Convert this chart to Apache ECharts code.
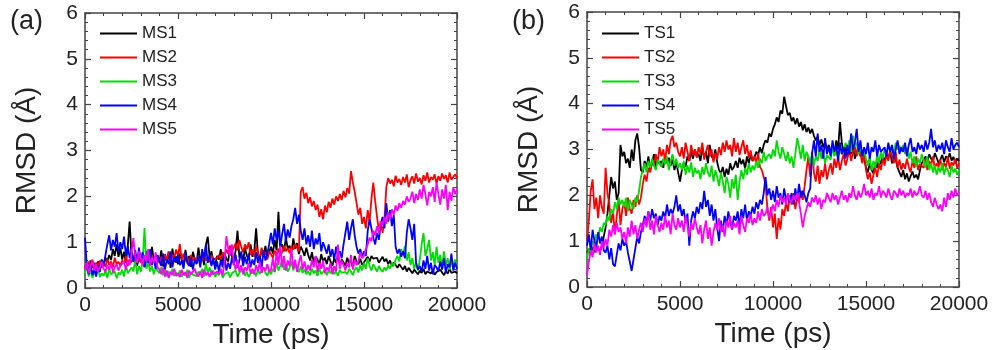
<!DOCTYPE html>
<html>
<head>
<meta charset="utf-8">
<script src="https://cdn.jsdelivr.net/npm/echarts@6/dist/echarts.min.js"></script>
<style>html,body{margin:0;padding:0;background:#fff}#c{width:1000px;height:350px}</style>
</head>
<body>
<div id="c"></div>
<script>
// Time step between samples (ps)
const timeStep = 100;
const xTicks = [0, 5000, 10000, 15000, 20000];
const yTicks = [0, 1, 2, 3, 4, 5, 6];
const namesA = ['MS1', 'MS2', 'MS3', 'MS4', 'MS5'];
const namesB = ['TS1', 'TS2', 'TS3', 'TS4', 'TS5'];
const colors = ['#000000', '#ff0000', '#00dd00', '#0000ff', '#ff00ff'];

const MS1 = [
0.45,0.52,0.38,0.60,0.44,0.55,0.41,0.58,0.47,0.62,
0.50,0.66,0.58,0.72,0.61,0.85,0.70,0.95,0.68,0.88,
0.62,0.79,0.55,0.92,1.45,0.70,0.58,0.83,0.49,0.66,
0.57,0.74,0.46,0.81,0.63,0.52,0.90,0.60,0.48,0.71,
0.55,0.82,0.47,0.68,0.59,0.78,0.44,0.86,0.57,0.69,
0.52,0.75,0.61,0.48,0.83,0.58,0.70,0.46,0.79,0.63,
0.55,0.88,0.60,0.72,0.50,0.94,1.12,0.66,0.80,0.57,
0.49,0.70,0.62,0.85,0.55,0.76,0.64,0.58,0.90,0.68,
0.60,0.82,1.25,0.66,0.74,0.57,0.88,0.70,0.63,0.95,
0.68,0.80,1.30,0.72,0.62,0.85,0.70,0.92,0.66,0.78,
0.90,0.75,1.05,0.82,1.66,0.88,0.95,0.80,1.10,0.86,
0.92,0.78,1.08,0.85,0.98,0.74,0.90,0.82,0.70,0.88,
0.72,0.60,0.78,0.55,0.68,0.62,0.50,0.74,0.58,0.66,
0.52,0.70,0.58,0.48,0.65,0.55,0.72,0.50,0.62,0.56,
0.48,0.66,0.54,0.60,0.45,0.70,0.58,0.52,0.64,0.50,
0.56,0.62,0.68,0.58,0.70,0.64,0.60,0.66,0.55,0.62,
0.68,0.58,0.64,0.52,0.60,0.48,0.56,0.50,0.44,0.52,
0.46,0.40,0.48,0.36,0.44,0.38,0.32,0.40,0.35,0.30,
0.38,0.33,0.42,0.30,0.36,0.40,0.32,0.38,0.29,0.35,
0.32,0.40,0.34,0.28,0.37,0.31,0.42,0.33,0.30,0.36,
0.32];
const MS2 = [
0.50,0.42,0.58,0.46,0.62,0.40,0.55,0.48,0.60,0.44,
0.52,0.47,0.63,0.50,0.58,0.45,0.66,0.52,0.57,0.49,
0.60,0.54,0.70,0.48,0.62,0.56,0.68,0.51,0.59,0.64,
0.55,0.62,0.48,0.66,0.58,0.52,0.70,0.60,0.54,0.63,
0.57,0.68,0.52,0.74,0.60,0.80,0.58,0.72,0.66,0.84,
0.70,0.96,0.62,0.75,0.58,0.68,0.54,0.72,0.60,0.66,
0.58,0.70,0.55,0.64,0.78,0.60,0.68,0.56,0.72,0.62,
0.58,0.66,0.72,0.60,0.78,0.70,0.84,0.75,0.92,0.80,
0.88,0.98,0.82,1.05,0.90,0.78,0.95,0.85,1.00,0.72,
0.84,0.68,0.92,0.76,0.64,0.88,0.70,0.78,0.62,0.80,
0.74,0.66,0.82,0.70,0.86,0.72,0.78,0.92,0.80,0.88,
0.76,0.90,0.84,0.96,0.88,0.80,2.10,2.20,1.95,2.08,
1.85,1.98,1.78,1.90,1.70,1.82,1.55,1.72,1.50,1.80,
1.65,1.88,1.75,1.95,1.82,2.00,1.90,2.05,1.92,2.12,
1.98,2.18,2.06,2.55,2.30,2.10,1.85,1.60,1.75,1.40,
1.55,1.30,1.70,1.45,1.95,2.30,1.90,1.55,1.25,1.45,
1.20,1.50,2.20,2.40,2.28,2.36,2.22,2.45,2.30,2.38,
2.25,2.42,2.30,2.48,2.20,2.35,2.44,2.28,2.50,2.32,
2.40,2.26,2.46,2.34,2.52,2.30,2.42,2.36,2.48,2.28,
2.44,2.34,2.50,2.38,2.46,2.30,2.52,2.36,2.42,2.48,
2.40];
const MS3 = [
0.30,0.52,0.25,0.40,0.22,0.35,0.28,0.45,0.24,0.32,
0.27,0.38,0.22,0.42,0.30,0.26,0.36,0.21,0.34,0.29,
0.40,0.25,0.50,0.32,0.28,0.45,0.36,0.62,0.30,0.48,
0.35,0.58,1.31,0.42,0.55,0.36,0.48,0.30,0.44,0.38,
0.32,0.45,0.28,0.40,0.25,0.36,0.30,0.42,0.26,0.34,
0.28,0.38,0.24,0.33,0.27,0.40,0.22,0.35,0.29,0.31,
0.26,0.36,0.30,0.42,0.25,0.55,0.32,0.45,0.28,0.38,
0.24,0.34,0.28,0.40,0.22,0.30,0.26,0.35,0.23,0.32,
0.28,0.38,0.25,0.33,0.30,0.42,0.27,0.36,0.24,0.31,
0.29,0.35,0.26,0.40,0.31,0.28,0.45,0.33,0.27,0.38,
0.30,0.42,0.35,0.55,0.38,0.48,0.62,0.40,0.52,0.36,
0.44,0.58,0.38,0.50,0.42,0.35,0.47,0.33,0.40,0.30,
0.36,0.28,0.42,0.32,0.38,0.26,0.45,0.30,0.35,0.40,
0.28,0.38,0.32,0.44,0.30,0.36,0.27,0.40,0.33,0.29,
0.35,0.30,0.42,0.36,0.28,0.40,0.45,0.34,0.50,0.38,
0.55,0.42,0.65,0.48,0.38,0.52,0.44,0.36,0.48,0.40,
0.35,0.45,0.38,0.50,0.42,0.55,0.48,0.62,0.70,0.58,
0.85,0.72,0.92,0.60,0.78,0.50,0.65,0.42,0.55,0.38,
0.62,0.95,1.20,0.70,0.85,1.05,0.60,0.78,0.50,0.90,
0.55,0.72,0.45,0.80,0.50,0.65,0.40,0.58,0.48,0.62,
0.45];
const MS4 = [
1.10,0.45,0.30,0.55,0.28,0.42,0.25,0.50,0.35,0.60,
0.48,0.72,0.95,1.15,0.82,1.05,0.90,1.20,0.78,1.00,
0.85,1.12,0.70,0.92,0.65,0.80,0.58,0.75,0.52,0.88,
0.60,0.78,0.45,0.70,0.55,0.85,0.50,0.66,0.42,0.72,
0.58,0.48,0.75,0.40,0.62,0.52,0.80,0.45,0.68,0.55,
0.72,0.50,0.60,0.42,0.78,0.55,0.48,0.66,0.40,0.62,
0.52,0.70,0.45,0.85,0.60,0.95,0.55,0.72,0.48,0.65,
0.40,0.58,0.35,0.62,0.45,0.70,0.38,0.55,0.42,0.66,
0.50,0.72,0.44,0.60,0.80,0.48,0.68,0.52,0.75,0.45,
0.62,0.50,0.78,0.55,0.70,0.45,0.82,0.60,0.74,0.95,
1.20,0.95,1.30,1.05,1.25,0.90,1.18,1.40,1.02,1.28,
1.10,1.35,1.50,1.75,1.40,1.60,1.25,1.05,1.30,0.95,
1.15,0.90,1.25,0.85,1.08,0.95,1.20,0.80,1.00,0.88,
0.75,0.95,0.68,0.85,0.62,0.90,0.70,0.80,0.65,0.95,
1.20,1.45,1.05,1.30,1.50,1.15,0.90,0.75,0.85,0.68,
0.80,0.70,1.25,1.50,1.30,1.10,0.95,1.20,1.05,1.40,
1.55,1.30,1.85,1.45,1.70,1.35,1.60,0.90,0.75,0.85,
0.68,0.80,0.65,1.20,1.50,1.30,1.05,1.40,0.55,0.40,
0.48,0.35,0.60,0.42,0.70,0.38,0.55,0.30,0.50,0.45,
0.36,0.58,0.40,0.65,0.33,0.52,0.45,0.75,0.38,0.55,
0.42];
const MS5 = [
0.40,0.55,0.32,0.48,0.60,0.38,0.52,0.35,0.45,0.58,
0.42,0.36,0.50,0.40,0.55,0.34,0.46,0.52,0.38,0.48,
0.44,0.58,0.40,0.62,0.50,0.75,1.09,0.70,0.55,0.80,
0.65,0.50,0.72,0.58,0.85,0.48,0.66,0.55,0.78,0.45,
0.40,0.30,0.45,0.25,0.38,0.22,0.35,0.28,0.42,0.26,
0.32,0.24,0.40,0.28,0.35,0.22,0.38,0.30,0.26,0.42,
0.30,0.25,0.36,0.22,0.40,0.28,0.34,0.24,0.38,0.30,
0.26,0.36,0.30,0.42,0.28,0.55,1.13,0.85,0.70,0.95,
0.55,0.40,0.62,0.35,0.50,0.30,0.45,0.38,0.55,0.32,
0.42,0.30,0.50,0.36,0.58,0.33,0.45,0.38,0.52,0.35,
0.40,0.65,0.35,0.80,0.50,0.92,0.45,0.70,0.38,0.60,
0.48,0.85,0.42,0.62,0.35,0.55,0.72,0.40,0.58,0.36,
0.50,0.38,0.62,0.45,0.70,0.35,0.55,0.42,0.60,0.32,
0.45,0.38,0.55,0.30,0.48,0.36,0.95,0.42,0.60,0.50,
0.38,0.55,0.45,0.72,0.40,0.62,0.50,0.58,0.78,0.65,
0.70,0.85,0.95,1.10,1.02,1.25,1.15,1.35,1.20,1.45,
1.38,1.55,1.40,1.65,1.50,1.72,1.60,1.80,1.68,1.85,
1.75,1.90,1.82,2.00,1.88,1.95,2.10,1.85,2.05,1.92,
2.15,1.95,2.25,2.05,1.80,2.10,2.00,2.20,1.88,2.30,
2.05,1.82,2.15,1.95,2.25,1.70,2.10,1.90,2.20,2.05,
2.15];

const TS1 = [
0.75,0.82,0.70,0.88,0.76,0.72,0.85,0.78,0.90,1.10,
1.30,1.60,2.00,2.40,2.15,2.30,1.90,2.05,3.10,2.85,
2.95,2.70,2.80,2.60,3.00,2.75,3.20,3.35,3.05,2.55,
2.50,2.75,2.60,2.85,2.55,2.70,2.90,2.62,2.80,2.68,
2.75,2.60,2.88,2.70,2.82,2.65,2.78,2.55,2.72,2.50,
2.30,2.55,2.70,2.62,2.85,2.75,2.95,2.80,3.00,2.85,
2.90,2.75,3.05,2.82,2.95,2.70,3.10,2.85,2.78,3.00,
2.72,2.55,2.48,2.62,2.40,2.58,2.45,2.70,2.55,2.62,
2.75,2.60,2.82,2.68,2.78,2.58,2.85,2.70,2.90,2.75,
2.82,2.95,2.88,3.05,2.92,3.10,3.20,3.15,3.35,3.28,
3.45,3.55,3.70,3.60,3.85,3.78,4.15,3.95,3.75,3.80,
3.62,3.70,3.55,3.68,3.50,3.60,3.42,3.55,3.38,3.48,
3.35,3.45,3.30,3.20,3.28,3.10,3.22,3.05,3.15,3.00,
3.10,2.95,3.05,2.88,3.20,3.00,3.60,3.15,2.92,3.05,
2.85,3.00,2.90,3.10,2.80,2.95,3.05,2.85,2.98,2.78,
2.62,2.50,2.70,2.55,2.48,2.72,2.60,2.80,2.68,2.85,
2.75,2.90,2.82,2.95,2.70,2.88,2.78,2.60,2.50,2.40,
2.55,2.35,2.48,2.30,2.42,2.52,2.38,2.45,2.35,2.55,
2.70,2.78,2.85,2.72,2.90,2.80,2.75,2.92,2.82,2.70,
2.78,2.88,2.72,2.85,2.80,2.92,2.76,2.84,2.70,2.80,
2.75];
const TS2 = [
1.00,1.45,2.10,2.35,1.70,1.95,1.50,2.00,1.75,1.60,
2.60,2.05,1.80,1.40,1.65,1.15,1.55,1.90,1.35,1.70,
1.85,1.55,1.95,1.70,1.60,1.90,1.75,2.00,1.80,1.95,
2.25,2.45,2.30,2.60,2.50,2.75,2.65,2.90,2.70,3.05,
2.85,3.00,2.75,3.10,2.90,3.20,3.30,3.05,3.15,2.95,
2.85,3.05,2.80,3.15,2.95,2.75,3.10,2.88,3.00,2.82,
3.05,2.90,3.15,2.78,2.95,3.10,2.85,3.00,2.72,2.92,
2.80,3.05,2.88,3.15,2.95,3.20,3.00,3.10,2.85,3.25,
2.95,3.15,2.88,3.05,3.20,2.90,3.10,2.82,2.98,2.75,
2.85,2.70,2.92,2.62,2.55,2.40,2.25,1.70,1.45,1.75,
1.30,1.60,1.05,1.50,1.25,1.70,1.55,1.85,1.65,2.00,
1.80,2.05,1.70,1.95,1.85,2.10,1.90,2.20,2.55,2.85,
2.40,2.95,2.50,2.30,2.65,2.25,2.55,2.40,2.70,2.35,
2.55,2.70,2.45,2.80,2.60,2.85,2.55,2.75,2.90,2.65,
2.80,3.00,2.75,2.95,3.10,2.85,3.05,2.90,2.70,2.95,
2.55,2.35,2.50,2.25,2.45,2.60,2.40,2.70,2.55,2.80,
2.65,2.90,2.75,3.00,2.85,2.70,2.95,2.60,2.78,2.55,
2.70,2.58,2.80,2.62,2.50,2.75,2.60,2.85,2.55,2.68,
2.72,2.60,2.80,2.55,2.75,2.65,2.85,2.58,2.70,2.62,
2.78,2.55,2.70,2.62,2.85,2.58,2.72,2.65,2.80,2.60,
2.70];
const TS3 = [
0.60,0.85,0.75,1.00,0.90,1.15,1.05,1.30,1.20,1.40,
1.35,1.55,1.45,1.70,1.60,1.85,1.70,1.95,1.80,1.90,
1.75,1.95,1.65,1.90,1.80,1.70,1.95,1.85,2.10,2.40,
2.55,2.70,2.50,2.75,2.60,2.80,2.65,2.55,2.78,2.70,
2.62,2.80,2.68,2.85,2.55,2.75,2.90,2.65,2.80,2.60,
2.70,2.55,2.75,2.45,2.65,2.50,2.72,2.40,2.60,2.48,
2.55,2.35,2.62,2.45,2.70,2.50,2.40,2.65,2.30,2.55,
2.40,2.20,2.50,2.30,2.05,2.40,2.25,1.95,2.35,2.15,
2.45,1.90,2.30,2.55,2.35,2.60,2.45,2.70,2.50,2.65,
2.55,2.75,2.60,2.80,2.70,2.95,2.75,2.85,2.90,2.80,
3.00,2.85,3.20,2.95,2.80,3.05,2.90,2.75,2.95,2.70,
2.85,2.60,2.90,3.25,3.05,2.80,3.10,2.75,2.95,2.85,
2.70,2.90,2.65,2.85,2.75,3.00,2.80,2.95,2.70,2.88,
2.92,2.78,3.05,2.85,3.00,2.80,3.10,2.90,2.95,3.15,
3.00,3.20,2.95,3.30,3.05,3.15,2.90,3.10,2.85,3.00,
2.80,2.65,2.85,2.55,2.75,2.60,2.90,2.70,2.95,2.80,
3.00,2.90,3.10,2.95,3.05,2.92,3.15,3.00,3.08,2.95,
3.10,2.90,3.05,2.80,2.95,2.70,2.85,2.62,2.80,2.70,
2.90,2.75,2.60,2.85,2.55,2.70,2.50,2.65,2.45,2.62,
2.50,2.70,2.45,2.62,2.55,2.40,2.65,2.50,2.58,2.45,
2.55];
const TS4 = [
0.90,1.15,0.80,1.25,1.00,0.85,1.20,0.95,1.10,0.80,
0.75,0.90,0.60,0.85,0.50,0.45,0.70,0.95,0.80,1.05,
0.90,1.00,0.75,0.55,0.35,0.60,0.85,1.10,0.95,1.20,
1.35,1.55,1.40,1.65,1.45,1.70,1.50,1.60,1.35,1.55,
1.45,1.65,1.50,1.80,1.55,1.70,1.60,1.75,2.00,1.65,
1.80,1.55,1.70,1.40,1.60,0.90,1.45,1.65,1.50,1.75,
1.60,1.85,1.70,2.10,1.75,1.90,1.55,1.80,1.45,1.70,
1.30,1.00,1.45,1.20,1.55,1.35,1.65,1.40,1.25,1.55,
1.45,1.65,1.30,1.70,1.50,1.80,1.45,1.65,1.55,1.75,
1.60,1.85,1.70,1.90,1.80,2.05,2.40,2.00,2.15,1.90,
2.10,1.85,2.20,1.95,2.05,1.80,2.15,1.90,2.00,1.85,
2.05,1.80,2.15,1.90,2.25,1.95,2.10,2.00,1.85,2.05,
2.15,2.90,3.20,2.85,3.35,2.95,3.10,2.80,3.25,2.90,
3.05,2.85,3.20,2.95,3.10,2.75,3.15,2.90,3.05,2.80,
3.10,2.90,3.35,3.00,3.15,3.45,2.95,3.20,2.85,3.05,
2.90,3.15,2.80,3.05,2.95,3.20,2.85,3.10,2.95,3.00,
3.05,2.85,3.15,2.95,3.10,2.80,3.00,3.20,2.90,3.05,
2.95,3.15,2.85,3.10,3.25,2.95,3.05,2.90,3.15,3.00,
3.10,2.95,3.20,3.00,3.15,3.45,3.05,3.20,2.95,3.10,
3.00,3.15,2.90,3.20,3.05,2.95,3.25,3.00,3.10,3.15,
3.05];
const TS5 = [
0.25,0.55,0.80,0.65,0.95,0.75,0.90,0.70,1.00,0.85,
1.05,0.90,1.25,1.10,1.35,1.15,1.40,1.20,1.30,1.05,
1.20,0.95,1.30,1.10,1.45,1.15,1.35,1.05,1.25,1.40,
1.20,1.50,1.30,1.65,1.25,1.45,1.15,1.55,1.35,1.20,
1.40,1.25,1.55,1.30,1.45,1.15,1.60,1.35,1.25,1.50,
1.30,1.45,1.20,1.55,1.35,1.10,1.40,1.25,1.50,1.30,
1.15,1.35,0.95,1.25,1.45,1.05,1.30,0.90,1.20,1.40,
1.25,1.50,1.20,1.35,1.10,1.45,1.30,1.55,1.25,1.40,
1.30,1.45,1.15,1.55,1.35,1.20,1.50,1.40,1.60,1.35,
1.50,1.40,1.65,1.45,1.70,1.55,1.60,1.75,1.50,1.65,
1.80,1.65,1.90,1.75,2.00,1.85,1.95,1.80,2.05,1.90,
1.85,2.00,1.90,2.05,1.85,1.60,1.30,1.55,1.70,1.85,
1.75,1.95,1.85,2.00,1.80,1.95,1.70,1.90,1.85,2.05,
1.95,1.85,2.05,1.90,2.00,1.80,1.95,2.10,1.90,2.00,
1.85,2.05,1.95,2.20,2.00,1.90,2.10,1.95,2.05,2.25,
2.00,2.10,1.95,2.15,1.90,2.05,2.00,2.20,1.95,2.10,
2.05,1.95,2.15,2.00,1.90,2.10,2.05,1.95,2.15,2.00,
2.10,1.95,2.05,2.00,2.15,1.95,2.10,2.00,2.05,2.20,
2.00,1.95,2.10,1.90,2.05,1.85,1.75,1.95,1.80,1.70,
1.80,1.65,1.95,1.75,2.05,1.90,2.10,1.95,2.15,2.00,
2.05];

const seriesA = [MS1, MS2, MS3, MS4, MS5];
const seriesB = [TS1, TS2, TS3, TS4, TS5];

function pairs(arr) { return arr.map((v, i) => [i * timeStep, v]); }

const chart = echarts.init(document.getElementById('c'), null, { renderer: 'canvas' });
const FONT = 'Liberation Sans, Arial, sans-serif';
const AX = '#444';

const grids = [
  { left: 85, top: 13, width: 372, height: 275 },
  { left: 587, top: 12, width: 372, height: 275 }
];

function xAxisFor(gi, pos) {
  const main = pos === 'bottom';
  return {
    type: 'value', gridIndex: gi, position: pos, min: 0, max: 20000, interval: 5000,
    axisLine: { show: true, onZero: false, lineStyle: { color: AX, width: 1.5 } },
    axisTick: { show: true, inside: true, length: 6, lineStyle: { color: AX, width: 1.2 } },
    minorTick: { show: true, splitNumber: 5, length: 3, lineStyle: { color: AX, width: 1 } },
    splitLine: { show: false },
    axisLabel: { show: main, fontFamily: FONT, fontSize: 21, color: '#222', margin: 7,
      formatter: v => String(v) },
    name: main ? 'Time (ps)' : '', nameLocation: 'middle', nameGap: 33,
    nameTextStyle: { fontFamily: FONT, fontSize: 28, color: '#222' }
  };
}
function yAxisFor(gi, pos) {
  const main = pos === 'left';
  return {
    type: 'value', gridIndex: gi, position: pos, min: 0, max: 6, interval: 1,
    axisLine: { show: true, onZero: false, lineStyle: { color: AX, width: 1.5 } },
    axisTick: { show: true, inside: true, length: 6, lineStyle: { color: AX, width: 1.2 } },
    minorTick: { show: true, splitNumber: 5, length: 3, lineStyle: { color: AX, width: 1 } },
    splitLine: { show: false },
    axisLabel: { show: main, fontFamily: FONT, fontSize: 21, color: '#222', margin: 7,
      formatter: v => String(v) },
    name: main ? 'RMSD (Å)' : '', nameLocation: 'middle', nameGap: 44, nameRotate: 90,
    nameTextStyle: { fontFamily: FONT, fontSize: 28, color: '#222' }
  };
}

const series = [];
seriesA.forEach((arr, k) => series.push({
  name: namesA[k], type: 'line', xAxisIndex: 0, yAxisIndex: 0, data: pairs(arr),
  showSymbol: false, symbol: 'none', lineStyle: { width: 1.8, color: colors[k] }, itemStyle: { color: colors[k] },
  animation: false, z: 2 + k
}));
seriesB.forEach((arr, k) => series.push({
  name: namesB[k], type: 'line', xAxisIndex: 2, yAxisIndex: 2, data: pairs(arr),
  showSymbol: false, symbol: 'none', lineStyle: { width: 1.8, color: colors[k] }, itemStyle: { color: colors[k] },
  animation: false, z: 2 + k
}));

function legendFor(names, left, top) {
  return {
    data: names.map(n => ({ name: n, icon: 'rect' })), orient: 'vertical', left: left, top: top,
    itemWidth: 37, itemHeight: 2, itemGap: 7, padding: 0,
    textStyle: { fontFamily: FONT, fontSize: 17, color: '#222', lineHeight: 14, padding: [0, 0, 0, 0] },
    selectedMode: false
  };
}

chart.setOption({
  animation: false,
  backgroundColor: '#fff',
  grid: grids.map(g => Object.assign({ show: false, containLabel: false, outerBoundsMode: 'none' }, g)),
  xAxis: [xAxisFor(0, 'bottom'), xAxisFor(0, 'top'), xAxisFor(1, 'bottom'), xAxisFor(1, 'top')],
  yAxis: [yAxisFor(0, 'left'), yAxisFor(0, 'right'), yAxisFor(1, 'left'), yAxisFor(1, 'right')],
  legend: [legendFor(namesA, 100, 25), legendFor(namesB, 602, 25)],
  series: series,
  graphic: [
    { type: 'text', left: 10, top: 8, style: { text: '(a)', font: '27px ' + FONT, fill: '#222' } },
    { type: 'text', left: 512, top: 8, style: { text: '(b)', font: '27px ' + FONT, fill: '#222' } }
  ]
});
</script>
</body>
</html>
